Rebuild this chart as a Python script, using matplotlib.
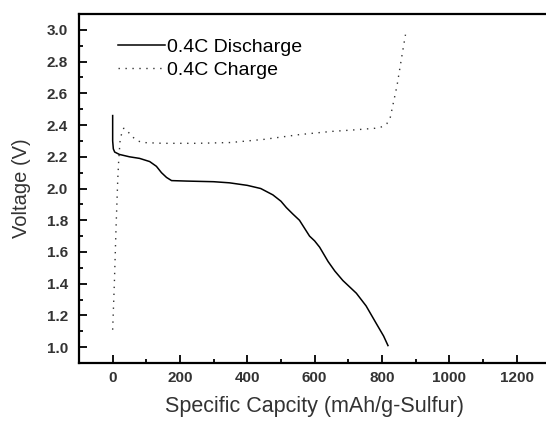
import matplotlib
matplotlib.use("Agg")
import matplotlib.pyplot as plt
from matplotlib.ticker import MultipleLocator

plt.rcParams["font.family"] = ["Liberation Sans", "DejaVu Sans"]

# discharge curve (mAh/g, V)
dis_cap = [0, 0, 2, 6, 20, 50, 80, 110, 130, 145, 160, 175, 220, 300, 347, 400, 440,
           476, 500, 516, 535, 555, 570, 585, 600, 615, 640, 660, 684, 724, 753,
           783, 805, 818]
dis_v = [2.46, 2.30, 2.25, 2.23, 2.215, 2.20, 2.19, 2.17, 2.14, 2.10, 2.07, 2.05,
         2.047, 2.043, 2.036, 2.02, 2.00, 1.96, 1.92, 1.88, 1.84, 1.80, 1.75, 1.70,
         1.67, 1.63, 1.54, 1.48, 1.42, 1.34, 1.26, 1.15, 1.07, 1.01]

# charge curve (mAh/g, V)
chg_cap = [0, 5, 10, 15, 18, 22, 28, 33, 45, 56, 75, 89, 150, 250, 350, 450, 555,
           650, 720, 780, 802, 815, 825, 835, 845, 855, 862, 870]
chg_v = [1.11, 1.40, 1.75, 2.05, 2.18, 2.30, 2.36, 2.38, 2.36, 2.33, 2.30, 2.29,
         2.285, 2.285, 2.29, 2.31, 2.34, 2.36, 2.37, 2.38, 2.39, 2.41, 2.45, 2.55,
         2.65, 2.78, 2.87, 2.97]

x_ticks = [0, 200, 400, 600, 800, 1000, 1200]
y_ticks = [1.0, 1.2, 1.4, 1.6, 1.8, 2.0, 2.2, 2.4, 2.6, 2.8, 3.0]

fig = plt.figure(figsize=(5.46, 4.23), dpi=100)
# right edge of the frame falls just outside the picture, like the cropped original
ax = fig.add_axes([0.1447, 0.1418, 0.863, 0.825])

ax.plot(dis_cap, dis_v, color="black", lw=1.1, label="0.4C Discharge")
ax.plot(chg_cap, chg_v, color="#333333", lw=1.0, linestyle=(0, (1, 4)), label="0.4C Charge")

ax.set_xlim(-100, 1300)
ax.set_ylim(0.9, 3.1)
ax.set_xticks(x_ticks)
ax.set_yticks(y_ticks)
ax.xaxis.set_minor_locator(MultipleLocator(100))
ax.yaxis.set_minor_locator(MultipleLocator(0.1))

for s in ax.spines.values():
    s.set_linewidth(1.6)
ax.tick_params(which="both", direction="in", top=False, right=False, width=1.3)
ax.tick_params(which="major", length=6, labelsize=11)
ax.tick_params(axis="x", which="major", pad=6)
ax.tick_params(axis="y", which="major", pad=8)
ax.tick_params(which="minor", length=3)
for lab in ax.get_xticklabels() + ax.get_yticklabels():
    lab.set_fontweight("bold")
    lab.set_color("#333333")

ax.set_xlabel("Specific Capcity (mAh/g-Sulfur)", fontsize=15.5, color="#333333", labelpad=8)
ax.set_ylabel("Voltage (V)", fontsize=14.5, color="#333333", labelpad=11)

ax.legend(loc="upper left", bbox_to_anchor=(0.083, 0.93), frameon=False, fontsize=14,
          borderpad=0, borderaxespad=0, handlelength=2.4, handletextpad=0.1,
          labelspacing=0.25)

fig.savefig("out.png", dpi=100)
